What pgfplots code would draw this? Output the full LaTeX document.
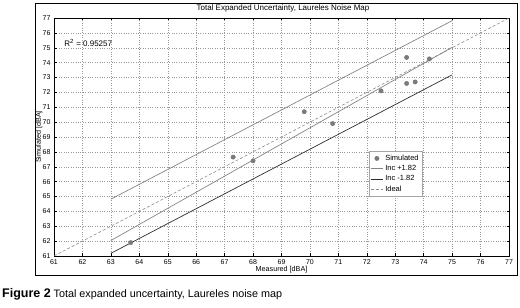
\documentclass[border=0pt]{standalone}
\usepackage{fontspec}
\setmainfont{Liberation Sans}
\usepackage{pgfplots}
\pgfplotsset{compat=1.18}
\definecolor{ptgray}{HTML}{7A7A7A}
\definecolor{incup}{HTML}{858585}
\definecolor{incdn}{HTML}{2E2E2E}
\definecolor{idealc}{HTML}{8C8C8C}
\begin{document}
\begin{tikzpicture}[x=1pt,y=1pt]
\useasboundingbox (0,0) rectangle (520,308);
\draw[line width=0.9pt] (35,33) rectangle (517,305);
\node[font=\fontsize{8}{9}\selectfont] at (283,299.5) {Total Expanded Uncertainty, Laureles Noise Map};
\node[anchor=base west, inner sep=0pt] at (2,10) {{\fontsize{12.5}{14}\selectfont\bfseries Figure 2} {\fontsize{10.8}{12}\selectfont Total expanded uncertainty, Laureles noise map}};
\begin{axis}[
  at={(54pt,52pt)}, anchor=south west, scale only axis,
  width=455pt, height=238pt,
  xmin=61, xmax=77, ymin=61, ymax=77,
  xtick={61,...,77}, ytick={61,...,77},
  grid=major, grid style={dotted, gray!80, line width=0.4pt},
  tick align=inside, major tick length=2.5pt,
  tick style={black, line width=0.4pt},
  axis line style={line width=0.5pt},
  ticklabel style={font=\fontsize{7}{8}\selectfont},
  /pgf/number format/assume math mode=true,
  xlabel={Measured [dBA]}, ylabel={Simulated [dBA]},
  label style={font=\fontsize{7.2}{8}\selectfont},
  xlabel style={at={(axis description cs:0.5,0)}, anchor=center, yshift=-13.5pt},
  ylabel style={at={([xshift=-15pt]axis description cs:0,0.5)}, anchor=center},
  legend image code/.code={\draw[mark repeat=2,mark phase=2,#1] plot coordinates {(0pt,0pt) (6pt,0pt) (12pt,0pt)};},
  legend style={at={(0.692,0.44)}, anchor=north west, font=\fontsize{7.5}{8}\selectfont,
    draw=gray!70, fill=white, inner sep=1.5pt, row sep=-0.5pt},
  legend cell align=left,
]
\addplot[only marks, mark=*, mark size=2.2pt, ptgray, mark options={draw=ptgray, fill=ptgray}] coordinates {
 (63.7,61.9) (67.3,67.65) (68.0,67.4) (69.8,70.7) (70.8,69.9)
 (72.5,72.1) (73.4,74.35) (73.4,72.6) (73.7,72.7) (74.2,74.25)};
\addlegendentry{Simulated}
\addplot[incup, line width=0.7pt] coordinates {(63,64.82) (75,76.82)};
\addlegendentry{Inc +1.82}
\addplot[incdn, line width=0.7pt] coordinates {(63,61.18) (75,73.18)};
\addlegendentry{Inc -1.82}
\addplot[idealc, line width=0.6pt, dash pattern=on 3pt off 2pt] coordinates {(61,61) (77,77)};
\addlegendentry{Ideal}
\addplot[incup, line width=0.7pt, forget plot] coordinates {(63,62.04) (75,75.03)};
\node[anchor=west, font=\fontsize{8}{9}\selectfont, inner sep=0pt] at (axis cs:61.36,75.35) {R\textsuperscript{2} = 0.95257};
\end{axis}
\end{tikzpicture}
\end{document}
